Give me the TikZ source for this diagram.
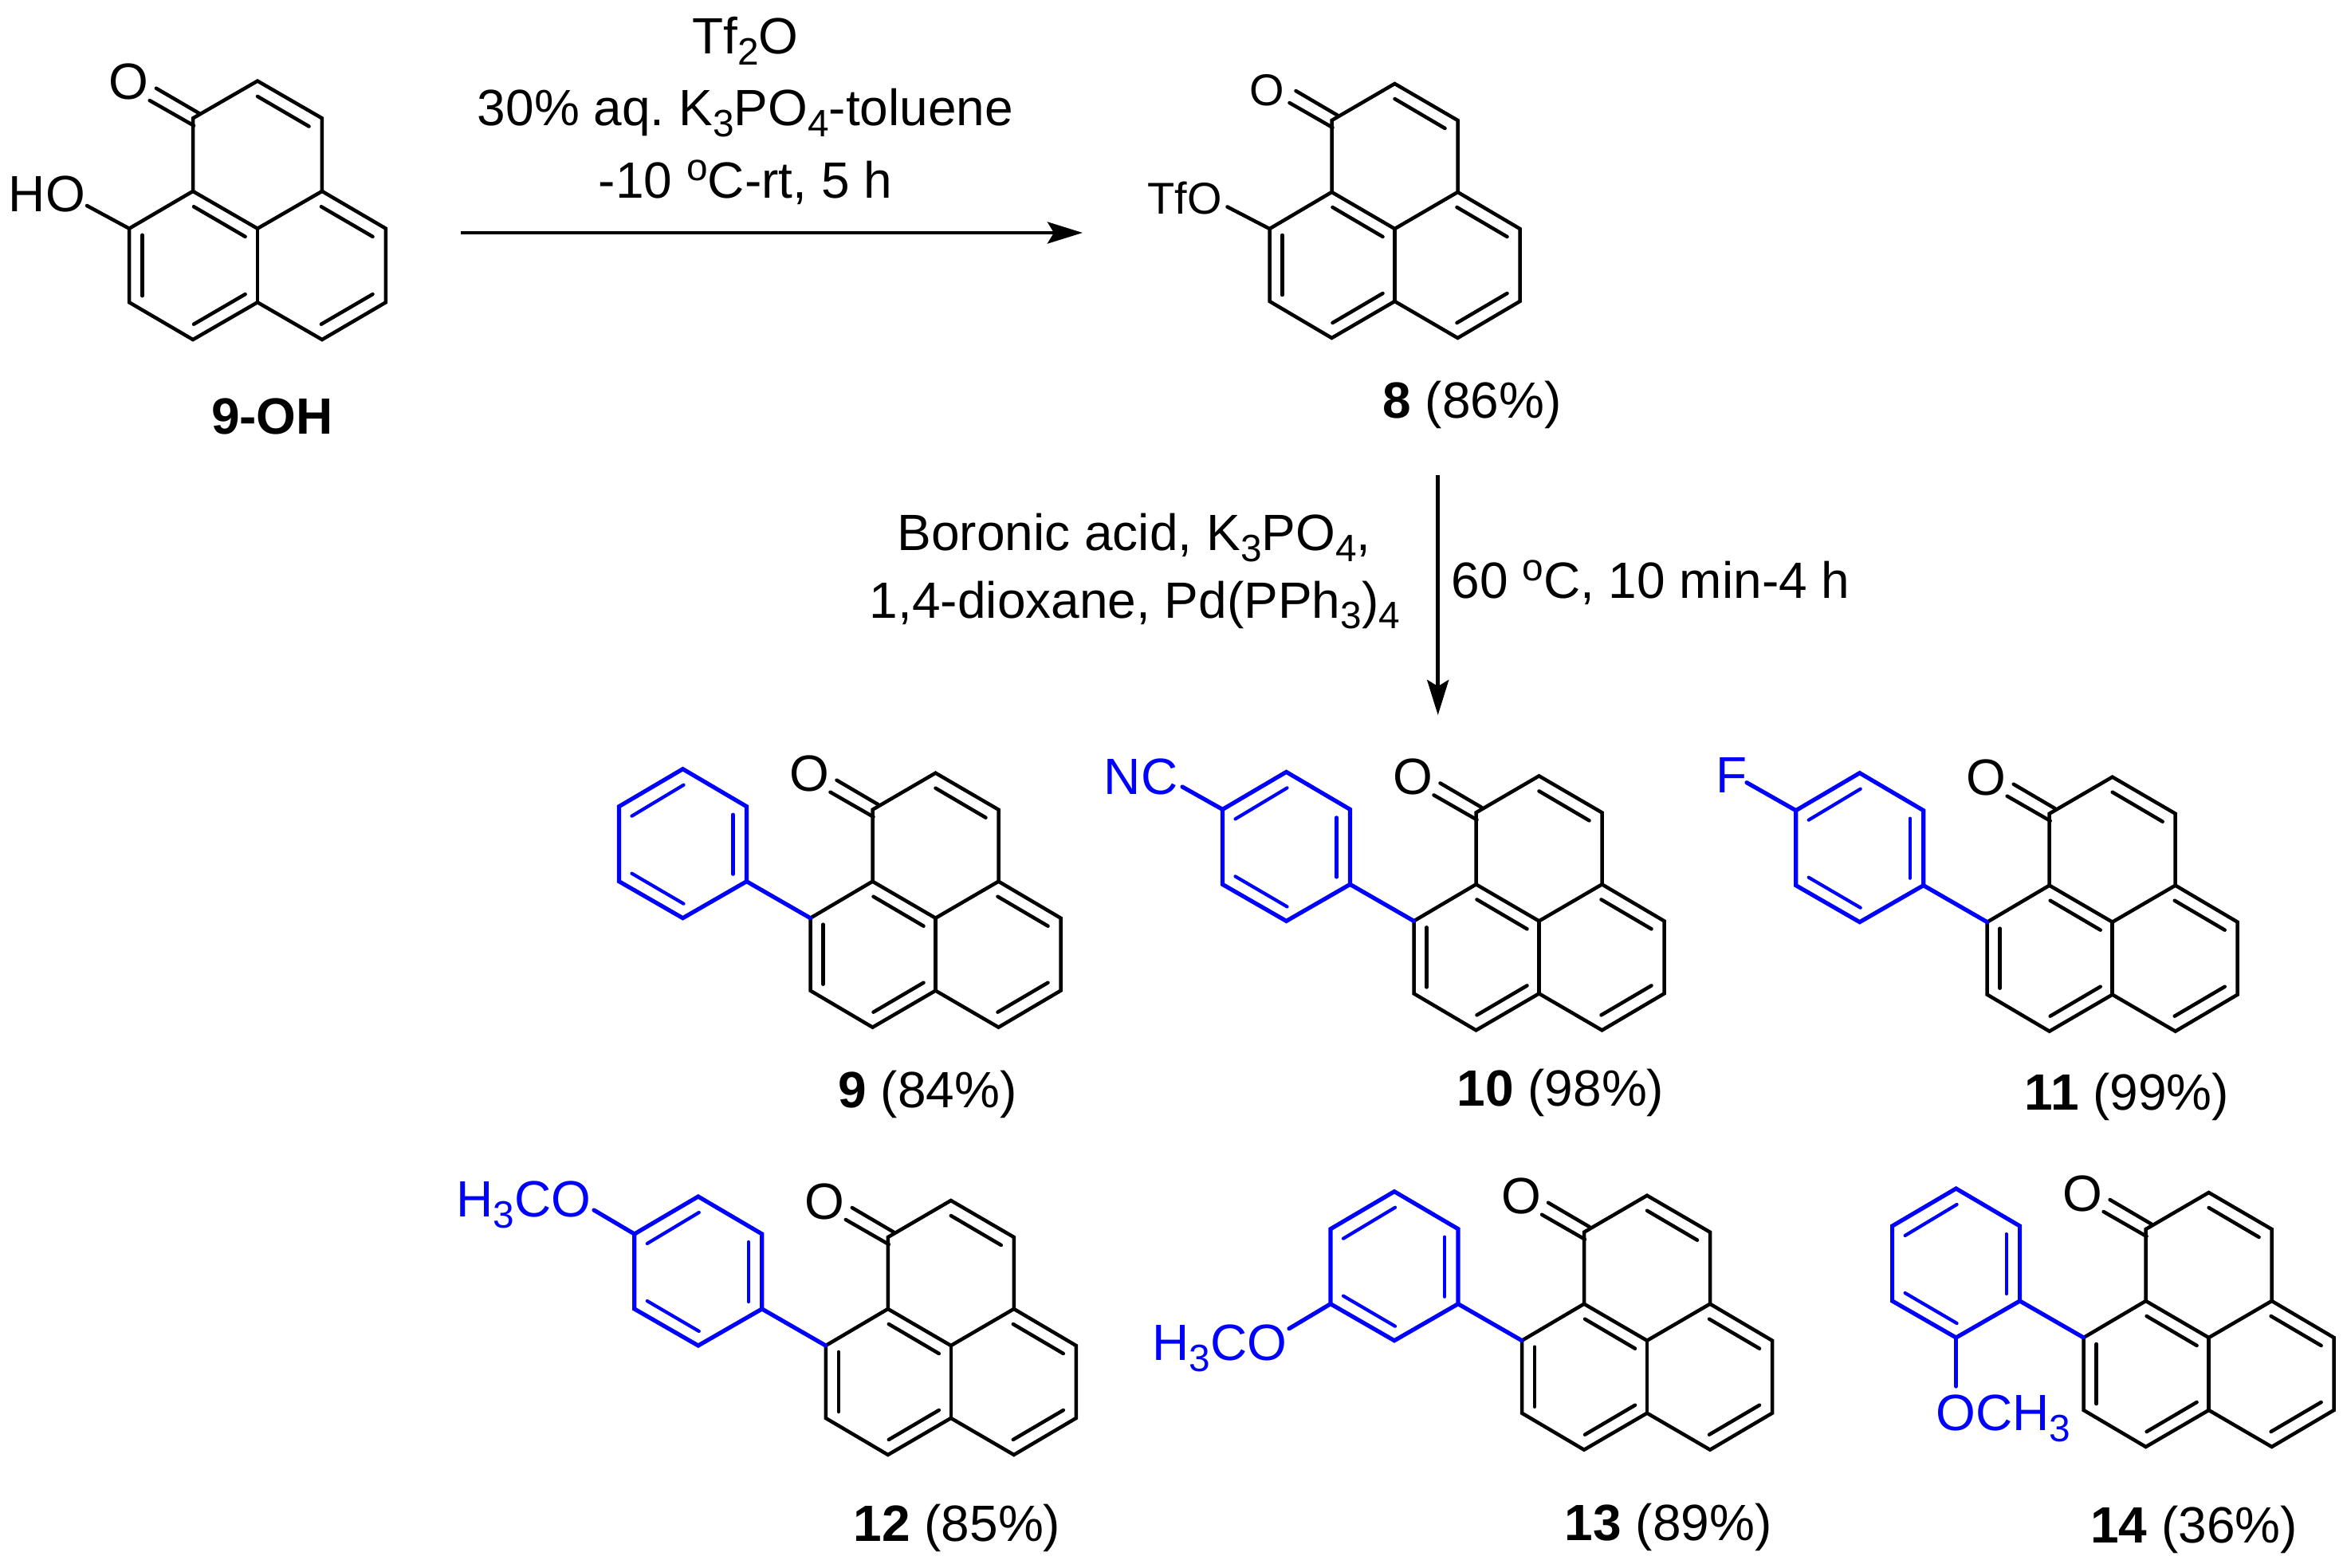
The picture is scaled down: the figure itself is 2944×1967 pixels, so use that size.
\documentclass[tikz,border=0pt]{standalone}
\usepackage{fontspec}
\setmainfont{Liberation Sans}
\usetikzlibrary{arrows.meta}
\frenchspacing
\newcommand{\chsub}[1]{\raisebox{-0.21em}{\fontsize{13.6}{14}\selectfont #1}}
\newcommand{\chdeg}{\raisebox{0.35em}{\fontsize{13.6}{14}\selectfont o}}
\tikzset{
  bond/.style={line width=0.045cm,line join=miter,miter limit=4,line cap=round,black},
  arylbond/.style={line width=0.052cm,line join=miter,miter limit=4,line cap=round,blue},
  arylinner/.style={line width=0.042cm,line cap=round,blue},
  rxnarrow/.style={line width=0.047cm,-{Stealth[length=0.44cm,width=0.27cm,inset=0.08cm]}},
  txt/.style={inner sep=0pt,outer sep=0pt,anchor=base,font=\fontsize{18.2}{20}\selectfont},
  smalltxt/.style={txt,font=\fontsize{15.9}{18}\selectfont},
  atom/.style={inner sep=0pt,outer sep=0pt,anchor=center,font=\fontsize{18.2}{20}\selectfont},
  smallatom/.style={atom,font=\fontsize{15.9}{18}\selectfont,yshift=-0.07cm,xshift=-0.02cm},
  bluetxt/.style={txt,text=blue},
}
% name, cx, cy, xscale, yscale, atom style
\newcommand{\phenal}[6]{%
  \begin{scope}[shift={(#2,#3)},xscale=#4,yscale=#5]
    \coordinate (#1a) at (-79,-136); \coordinate (#1b) at (0,-182);
    \coordinate (#1c) at (79,-136);  \coordinate (#1d) at (79,-46);
    \coordinate (#1e) at (0,0);      \coordinate (#1f) at (-79,-46);
    \coordinate (#1g) at (-157,0);   \coordinate (#1h) at (-157,91);
    \coordinate (#1i) at (-79,137);  \coordinate (#1j) at (0,91);
    \coordinate (#1k) at (79,137);   \coordinate (#1l) at (157,91);
    \coordinate (#1m) at (157,0);
    \draw[bond] (#1a)--(#1b)--(#1c)--(#1d)--(#1e)--(#1f)--cycle;
    \draw[bond] (#1f)--(#1g)--(#1h)--(#1i)--(#1j)--(#1k)--(#1l)--(#1m)--(#1d);
    \draw[bond] (#1e)--(#1j);
    \draw[bond] (0,-163)--(63,-126);
    \draw[bond] (-78,-27)--(-15,10);
    \draw[bond] (78,-27)--(141,10);
    \draw[bond] (-141,8)--(-141,83);
    \draw[bond] (-78,118)--(-15,81);
    \draw[bond] (78,118)--(141,81);
    \draw[bond] (-124,-173)--(-72,-142.5);
    \draw[bond] (-132,-158)--(-78,-127);
    \node[#6] (#1O) at (-158,-181) {O};
  \end{scope}}
% name, cx, cy of the phenalenone it hangs on
\newcommand{\arylring}[3]{%
  \begin{scope}[shift={(#2,#3)}]
    \coordinate (#1pa) at (-237,-46);  \coordinate (#1pb) at (-317,0);
    \coordinate (#1pc) at (-397,-46);  \coordinate (#1pd) at (-397,-140);
    \coordinate (#1pe) at (-317,-187); \coordinate (#1pf) at (-237,-140);
    \draw[arylbond] (#1pa)--(#1pb)--(#1pc)--(#1pd)--(#1pe)--(#1pf)--cycle;
    \draw[arylbond] (#1pa)--(#1g);
    \draw[arylinner] (-381,-128)--(-316,-167);
    \draw[arylinner] (-254,-130)--(-254,-55);
    \draw[arylinner] (-381,-56)--(-316,-18);
  \end{scope}}
\begin{document}
\begin{tikzpicture}[x=0.01cm,y=-0.01cm]
\useasboundingbox (0,0) rectangle (2944,1967);
% starting material and triflate
\phenal{s}{323}{286.7}{1.025}{1.017}{atom}
\phenal{t}{1749.5}{287}{1}{1}{smallatom}
\node[txt] (hoLabel) at (59,266) {HO};
\coordinate (hoEnd) at (109,258);
\draw[bond] (sg)--(hoEnd);
\node[txt] (nameSM) at (341.5,545) {\textbf{9-OH}};
\node[smalltxt] (tfoLabel) at (1486,268.5) {TfO};
\coordinate (tfoEnd) at (1539.5,259.5);
\draw[bond] (tg)--(tfoEnd);
\node[txt] (name8) at (1846.6,525) {\textbf{8} (86\%)};
% first step
\node[txt] (condA) at (935,68) {Tf\chsub{2}O};
\node[txt] (condB) at (935,158) {30\% aq. K\chsub{3}PO\chsub{4}-toluene};
\node[txt] (condC) at (935,248.6) {-10 \chdeg C-rt, 5 h};
\coordinate (arrowAs) at (578,292);
\coordinate (arrowAe) at (1358,292);
\draw[rxnarrow] (arrowAs)--(arrowAe);
% second step
\node[txt] (condD) at (1422.5,690.6) {Boronic acid, K\chsub{3}PO\chsub{4},};
\node[txt] (condE) at (1423.5,775) {1,4-dioxane, Pd(PPh\chsub{3})\chsub{4}};
\node[txt] (condF) at (2070.5,750.7) {60 \chdeg C, 10 min-4 h};
\coordinate (arrowBs) at (1803.7,596);
\coordinate (arrowBe) at (1803.7,897);
\draw[rxnarrow] (arrowBs)--(arrowBe);
% products
\phenal{nine}{1173.5}{1151.7}{1}{1}{atom}
\arylring{nine}{1173.5}{1151.7}
\node[txt] (name9) at (1163.5,1389) {\textbf{9} (84\%)};

\phenal{ten}{1930.5}{1155.4}{1}{1}{atom}
\arylring{ten}{1930.5}{1155.4}
\node[bluetxt] (nc) at (1431,996) {NC};
\coordinate (ncEnd) at (1483,987);
\draw[arylbond] (tenpd)--(ncEnd);
\node[txt] (name10) at (1957.4,1387) {\textbf{10} (98\%)};

\phenal{ele}{2649.7}{1156.7}{1}{1}{atom}
\arylring{ele}{2649.7}{1156.7}
\node[bluetxt] (fl) at (2172,994.3) {F};
\coordinate (flEnd) at (2191,981.7);
\draw[arylbond] (elepd)--(flEnd);
\node[txt] (name11) at (2668,1392) {\textbf{11} (99\%)};

\phenal{twe}{1192.8}{1688}{1}{1}{atom}
\arylring{twe}{1192.8}{1688}
\node[bluetxt] (meoA) at (656.7,1526.7) {H\chsub{3}CO};
\coordinate (meoAEnd) at (745,1518);
\draw[arylbond] (twepd)--(meoAEnd);
\node[txt] (name12) at (1200.4,1933) {\textbf{12} (85\%)};

\phenal{thi}{2066}{1681.7}{1}{1}{atom}
\arylring{thi}{2066}{1681.7}
\node[bluetxt] (meoB) at (1530,1706.7) {H\chsub{3}CO};
\coordinate (meoBEnd) at (1617,1666.7);
\draw[arylbond] (thipc)--(meoBEnd);
\node[txt] (name13) at (2092.6,1932.7) {\textbf{13} (89\%)};

\phenal{fou}{2770.6}{1678}{1}{1}{atom}
\arylring{fou}{2770.6}{1678}
\node[bluetxt] (meoC) at (2513,1794.6) {OCH\chsub{3}};
\coordinate (meoCEnd) at (2453.6,1739);
\draw[arylbond] (foupb)--(meoCEnd);
\node[txt] (name14) at (2752,1935) {\textbf{14} (36\%)};
\end{tikzpicture}
\end{document}
